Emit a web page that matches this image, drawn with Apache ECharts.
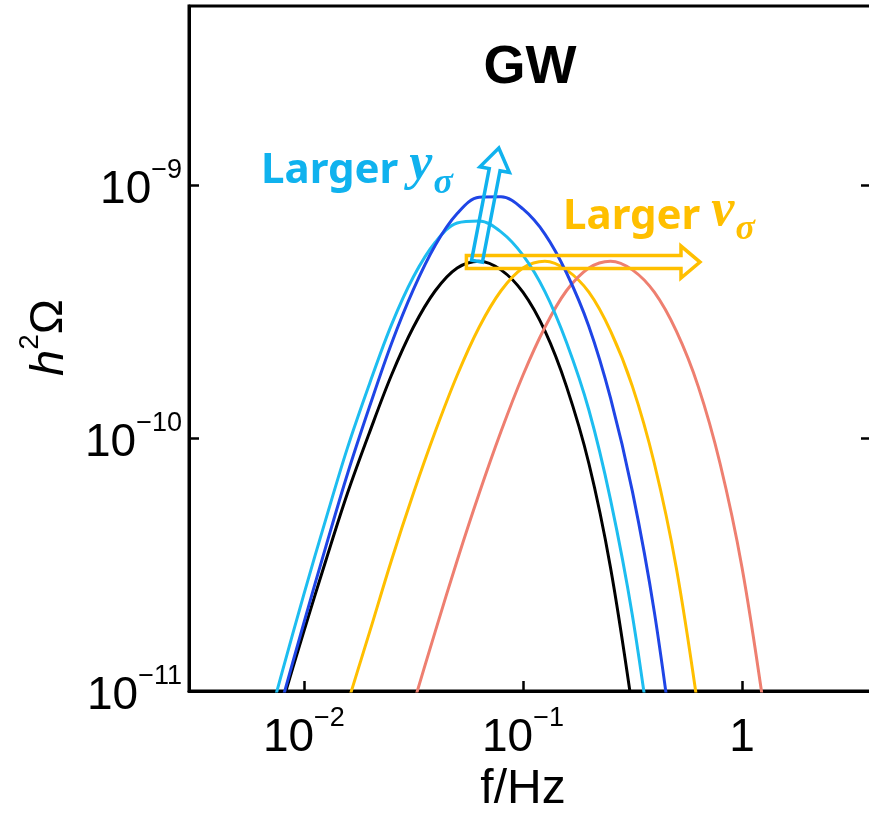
<!DOCTYPE html>
<html lang="en">
<head>
<meta charset="UTF-8">
<title>GW</title>
<script src="https://cdn.jsdelivr.net/npm/echarts@6/dist/echarts.min.js"></script>
<style>
    html, body { margin: 0; padding: 0; background: #fff; }
    #main { width: 869px; height: 815px; }
</style>
</head>
<body>
<div id="main"></div>
<script>
// frequency grid in Hz (0.1 dex steps)
var freq = [0.00501, 0.00631, 0.00794, 0.01, 0.0126, 0.0158, 0.0200, 0.0251, 0.0316, 0.0398,
            0.0501, 0.0631, 0.0794, 0.1, 0.126, 0.158, 0.200, 0.251, 0.316, 0.398,
            0.501, 0.631, 0.794, 1.0, 1.26, 1.58];

// h^2 Omega, aligned with freq (null = outside the plot)
var omegaBlack = [null, 4.47e-12, 8.85e-12, 1.72e-11, 3.28e-11, 6.03e-11, 1.06e-10, 1.77e-10, 2.74e-10, 3.82e-10,
                  4.70e-10, 5.00e-10, 4.62e-10, 3.77e-10, 2.65e-10, 1.60e-10, 7.93e-11, 3.08e-11, 8.51e-12, null,
                  null, null, null, null, null, null];
var omegaCyan = [2.67e-12, 5.66e-12, 1.18e-11, 2.41e-11, 4.78e-11, 9.12e-11, 1.65e-10, 2.80e-10, 4.33e-10, 5.94e-10,
                 7.08e-10, 7.21e-10, 6.53e-10, 5.28e-10, 3.79e-10, 2.39e-10, 1.29e-10, 5.71e-11, 1.99e-11, 4.97e-12,
                 null, null, null, null, null, null];
var omegaBlue = [null, 4.37e-12, 9.10e-12, 1.86e-11, 3.72e-11, 7.19e-11, 1.34e-10, 2.36e-10, 3.86e-10, 5.78e-10,
                 7.71e-10, 8.95e-10, 8.99e-10, 8.04e-10, 6.40e-10, 4.50e-10, 2.76e-10, 1.44e-10, 6.15e-11, 2.05e-11,
                 4.83e-12, null, null, null, null, null];
var omegaOrange = [null, null, null, null, 4.47e-12, 8.85e-12, 1.72e-11, 3.28e-11, 6.03e-11, 1.06e-10,
                   1.77e-10, 2.74e-10, 3.82e-10, 4.70e-10, 5.00e-10, 4.62e-10, 3.77e-10, 2.65e-10, 1.60e-10, 7.93e-11,
                   3.08e-11, 8.51e-12, null, null, null, null];
var omegaRed = [null, null, null, null, null, null, null, 4.47e-12, 8.85e-12, 1.72e-11,
                3.28e-11, 6.03e-11, 1.06e-10, 1.77e-10, 2.74e-10, 3.82e-10, 4.70e-10, 5.00e-10, 4.62e-10, 3.77e-10,
                2.65e-10, 1.60e-10, 7.93e-11, 3.08e-11, 8.51e-12, null];

var xTicks = [0.01, 0.1, 1];
var yTicks = [1e-11, 1e-10, 1e-9];
var xRange = [0.00299, 3.88];
var yRange = [1e-11, 5.1e-9];

// arrow anchors (data coords)
var yArrow = [[0.0617, 5.0e-10], [0.0776, 1.40e-9]];
var vArrow = [[0.0552, 4.96e-10], [0.643, 4.96e-10]];

var cBlack = '#000000', cCyan = '#1dbdf0', cBlue = '#1f45e6', cOrange = '#ffbf00', cRed = '#ee7f70';
var cCyanText = '#10b2ee', cOrangeText = '#ffbf00';

var FONT = 'Liberation Sans, Arial, sans-serif';

function lg(v) { return Math.log10(v); }
function toPairs(ys) {
    var out = [];
    for (var i = 0; i < freq.length; i++) {
        if (ys[i] != null) out.push([lg(freq[i]), lg(ys[i])]);
    }
    return out;
}
function powLabel(v) {
    var e = Math.round(v);
    if (e === 0) return '{b|1}';
    return '{b|10}{s|' + (e < 0 ? '\u2212' + (-e) : e) + '}';
}
var tickRich = {
    b: { fontSize: 46, fontFamily: FONT, color: '#000', verticalAlign: 'bottom', padding: [10, 0, 0, 0] },
    s: { fontSize: 27, fontFamily: FONT, color: '#000', verticalAlign: 'top' }
};

var chart = echarts.init(document.getElementById('main'));

function line(name, ys, color, z) {
    return {
        name: name,
        type: 'line',
        data: toPairs(ys),
        showSymbol: false,
        smooth: 0.35,
        clip: true,
        z: z,
        lineStyle: { color: color, width: 3 }
    };
}

chart.setOption({
    animation: false,
    backgroundColor: '#fff',
    grid: {
        left: 189, top: 6, right: -2, bottom: 124,
        show: true, borderColor: '#000', borderWidth: 3,
        outerBoundsMode: 'none'
    },
    xAxis: {
        type: 'value',
        min: lg(xRange[0]), max: lg(xRange[1]),
        name: 'f/Hz', nameLocation: 'middle', nameGap: 68,
        nameTextStyle: { fontSize: 48, fontFamily: FONT, color: '#000', padding: [0, 14, 0, 0] },
        axisLine: { onZero: false, lineStyle: { color: '#000', width: 3 } },
        axisTick: { inside: true, length: 10, lineStyle: { color: '#000', width: 2.5 }, customValues: xTicks.map(lg) },
        axisLabel: { margin: 14, formatter: powLabel, rich: tickRich, customValues: xTicks.map(lg) },
        splitLine: { show: false }
    },
    yAxis: [{
        type: 'value',
        min: lg(yRange[0]), max: lg(yRange[1]),
        name: '{i|h}{s|2}{n|\u03a9}', nameLocation: 'middle', nameGap: 116, nameRotate: 90,
        nameTextStyle: {
            padding: [0, 0, 0, 22],
            rich: {
                i: { fontSize: 47, fontFamily: FONT, fontStyle: 'italic', color: '#000', verticalAlign: 'bottom', padding: [10, 0, 0, 0] },
                s: { fontSize: 28, fontFamily: FONT, color: '#000', verticalAlign: 'top' },
                n: { fontSize: 47, fontFamily: FONT, color: '#000', verticalAlign: 'bottom', padding: [10, 0, 0, 0] }
            }
        },
        axisLine: { onZero: false, lineStyle: { color: '#000', width: 3 } },
        axisTick: { inside: true, length: 10, lineStyle: { color: '#000', width: 2.5 }, customValues: yTicks.map(lg) },
        axisLabel: { margin: 7, formatter: powLabel, rich: tickRich, customValues: yTicks.map(lg) },
        splitLine: { show: false }
    }, {
        type: 'value', position: 'right',
        min: lg(yRange[0]), max: lg(yRange[1]),
        axisLine: { show: true, onZero: false, lineStyle: { color: '#000', width: 3 } },
        axisTick: { inside: true, length: 10, lineStyle: { color: '#000', width: 2.5 }, customValues: yTicks.slice(1).map(lg) },
        axisLabel: { show: false },
        splitLine: { show: false }
    }],
    series: [
        line('black', omegaBlack, cBlack, 2),
        line('orange', omegaOrange, cOrange, 2),
        line('red', omegaRed, cRed, 2),
        line('cyan', omegaCyan, cCyan, 3),
        line('blue', omegaBlue, cBlue, 4)
    ]
});

// hollow arrow outline between two pixel points
function arrowPoints(p, q, hw, hl, hh) {
    var dx = q[0] - p[0], dy = q[1] - p[1];
    var len = Math.sqrt(dx * dx + dy * dy);
    var ux = dx / len, uy = dy / len, nx = -uy, ny = ux;
    var bx = q[0] - ux * hl, by = q[1] - uy * hl;
    return [
        [p[0] + nx * hw, p[1] + ny * hw],
        [bx + nx * hw, by + ny * hw],
        [bx + nx * hh, by + ny * hh],
        [q[0], q[1]],
        [bx - nx * hh, by - ny * hh],
        [bx - nx * hw, by - ny * hw],
        [p[0] - nx * hw, p[1] - ny * hw]
    ];
}
function px(pt) {
    return chart.convertToPixel({ gridIndex: 0 }, [lg(pt[0]), lg(pt[1])]);
}

var ya = arrowPoints(px(yArrow[0]), px(yArrow[1]), 5.5, 22, 15);
var va = arrowPoints(px(vArrow[0]), px(vArrow[1]), 6.5, 19, 16);

function mathLabel(word, sym, color) {
    return {
        text: '{t|' + word + ' }{m|' + sym + '}{d|\u03c3}',
        align: 'left', verticalAlign: 'middle',
        rich: {
            t: { fontSize: 42, fontWeight: 'bold', fontFamily: 'Noto Sans, sans-serif', fill: color, verticalAlign: 'bottom' },
            m: { fontSize: 52, fontWeight: 'bold', fontStyle: 'italic', fontFamily: 'Liberation Serif, serif', fill: color, verticalAlign: 'bottom', padding: [0, 1, 0, 0] },
            d: { fontSize: 36, fontWeight: 'bold', fontStyle: 'italic', fontFamily: 'Liberation Serif, serif', fill: color, verticalAlign: 'bottom', padding: [0, 0, -10, 0] }
        }
    };
}

chart.setOption({
    graphic: [
        {
            type: 'text', x: 530, y: 68, z: 10,
            style: { text: 'GW', fontSize: 54, fontWeight: 'bold', fontFamily: FONT, fill: '#000', align: 'center', verticalAlign: 'middle' }
        },
        {
            type: 'polygon', z: 10,
            shape: { points: va },
            style: { fill: 'none', stroke: cOrange, lineWidth: 3.5 }
        },
        {
            type: 'polygon', z: 11,
            shape: { points: ya },
            style: { fill: 'none', stroke: cCyanText, lineWidth: 3.5 }
        },
        { type: 'text', x: 261, y: 166, z: 10, style: mathLabel('Larger', 'y', cCyanText) },
        { type: 'text', x: 563, y: 212, z: 10, style: mathLabel('Larger', 'v', cOrangeText) }
    ]
});
</script>
</body>
</html>
